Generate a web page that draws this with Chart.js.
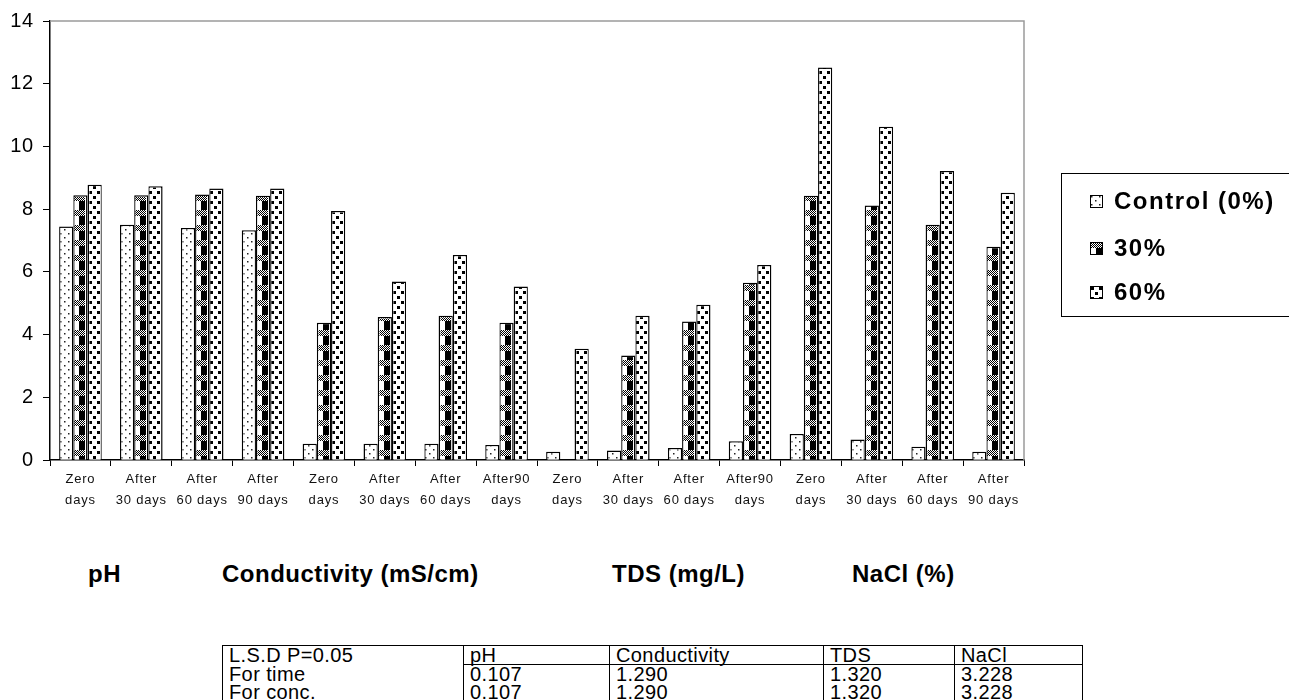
<!DOCTYPE html>
<html>
<head>
<meta charset="utf-8">
<script src="https://cdn.jsdelivr.net/npm/chart.js@4.4.1/dist/chart.umd.min.js"></script>
<style>
  body { margin: 0; background: #fff; font-family: "Liberation Sans", Arial, sans-serif; }
  #wrap { position: relative; width: 1289px; height: 700px; overflow: hidden; }
  #chartBox { position: absolute; left: 0; top: 0; width: 1289px; height: 520px; }
  #legend { position: absolute; left: 1061px; top: 173px; width: 240px; height: 142px; border: 1px solid #000; }
  .item { position: absolute; left: 28px; height: 30px; line-height: 30px; font-weight: bold; font-size: 24px; letter-spacing: 1.5px; color: #000; white-space: nowrap; }
  .item canvas { position: absolute; left: 0; top: 9px; }
  .item span { position: absolute; left: 24px; top: 0; }
  .head { position: absolute; top: 560px; font-weight: bold; font-size: 24px; letter-spacing: 0.5px; line-height: 28px; color: #000; white-space: nowrap; }
  table { position: absolute; left: 222px; top: 645px; border-collapse: collapse; font-size: 20px; letter-spacing: 0.4px; color: #000; }
  td { height: 18px; line-height: 18px; padding: 0 0 0 6px; border-left: 1.5px solid #000; border-right: 1.5px solid #000; white-space: nowrap; vertical-align: middle; }
  tr:first-child td { border-top: 1.5px solid #000; }
  tr:last-child td { border-bottom: 1.5px solid #000; }
  tr:first-child td.v { border-bottom: 1.5px solid #000; }
</style>
</head>
<body>
<div id="wrap">
  <div id="chartBox"><canvas id="salinityChart"></canvas></div>
  <div id="legend"></div>
  <div class="head" style="left:88px">pH</div>
  <div class="head" style="left:222px">Conductivity (mS/cm)</div>
  <div class="head" style="left:612px">TDS (mg/L)</div>
  <div class="head" style="left:852px">NaCl (%)</div>
  <table id="lsdTable"></table>
</div>
<script>
// categories (pH, Conductivity, TDS, NaCl - four time points each)
const categories = [
    ['Zero', 'days'], ['After', '30 days'], ['After', '60 days'], ['After', '90 days'],
    ['Zero', 'days'], ['After', '30 days'], ['After', '60 days'], ['After90', 'days'],
    ['Zero', 'days'], ['After', '30 days'], ['After', '60 days'], ['After90', 'days'],
    ['Zero', 'days'], ['After', '30 days'], ['After', '60 days'], ['After', '90 days'],
];
const seriesNames = ['Control (0%)', '30%', '60%'];
const control = [7.45, 7.5, 7.4, 7.33, 0.52, 0.52, 0.52, 0.48, 0.26, 0.3, 0.38, 0.6, 0.83, 0.65, 0.42, 0.26];
const conc30 = [8.44, 8.44, 8.47, 8.43, 4.38, 4.56, 4.6, 4.38, null, 3.33, 4.42, 5.65, 8.43, 8.12, 7.5, 6.8];
const conc60 = [8.78, 8.73, 8.66, 8.66, 7.94, 5.69, 6.54, 5.53, 3.55, 4.6, 4.95, 6.22, 12.52, 10.63, 9.22, 8.52];
const yTicks = [0, 2, 4, 6, 8, 10, 12, 14];

const tableHead = ['L.S.D P=0.05', 'pH', 'Conductivity', 'TDS', 'NaCl'];
const tableRows = [
    ['For time', '0.107', '1.290', '1.320', '3.228'],
    ['For conc.', '0.107', '1.290', '1.320', '3.228'],
];
const colWidths = [240, 145, 213, 130, 127];

// fill textures, drawn once on small canvases
function makeTile(w, h, draw) {
    const c = document.createElement('canvas');
    c.width = w; c.height = h;
    const g = c.getContext('2d');
    g.fillStyle = '#fff';
    g.fillRect(0, 0, w, h);
    g.fillStyle = '#000';
    draw(g);
    return c;
}
const tiles = [
    makeTile(8, 8, g => {
        g.fillStyle = '#222';
        g.fillRect(1, 1, 1.5, 1.5);
        g.fillRect(5, 5, 1.5, 1.5);
    }),
    makeTile(14, 15, g => {
        g.fillRect(6, 0, 6, 15);
        g.fillStyle = '#fff';
        g.fillRect(1, 0, 11, 6);
        g.fillStyle = '#000';
        for (let y = 0; y < 6; y++) {
            for (let x = 1; x < 12; x++) {
                if ((x + y) % 2 === 0) g.fillRect(x, y, 1, 1);
            }
        }
    }),
    makeTile(8, 10, g => {
        g.fillRect(1, 1, 3, 3);
        g.fillRect(5, 6, 3, 3);
    }),
];

const patternPlugin = {
    id: 'barPatterns',
    afterDatasetsDraw(chart) {
        const ctx = chart.ctx;
        chart.data.datasets.forEach((ds, i) => {
            const meta = chart.getDatasetMeta(i);
            const pat = ctx.createPattern(tiles[i], 'repeat');
            meta.data.forEach((bar, j) => {
                if (ds.data[j] == null) return;
                const p = bar.getProps(['x', 'y', 'base', 'width'], true);
                const left = p.x - p.width / 2;
                const w = p.width - 3, h = p.base - p.y - 1.5;
                if (w <= 0 || h <= 0) return;
                ctx.save();
                ctx.translate(Math.round(left), 0);
                ctx.fillStyle = pat;
                ctx.fillRect(1.5, p.y + 1.5, w, h);
                ctx.restore();
            });
        });
    }
};

const framePlugin = {
    id: 'frame',
    beforeLayout(chart) {
        chart.ctx.letterSpacing = '0.8px';
    },
    afterDraw(chart) {
        const { ctx, chartArea: a } = chart;
        ctx.save();
        ctx.strokeStyle = '#9a9a9a';
        ctx.lineWidth = 1.5;
        ctx.beginPath();
        ctx.moveTo(a.left, a.top);
        ctx.lineTo(a.right, a.top);
        ctx.lineTo(a.right, a.bottom);
        ctx.stroke();
        ctx.restore();
    }
};

const makeSet = (label, data) => ({
    label: label,
    data: data,
    backgroundColor: '#fff',
    borderColor: '#000',
    borderWidth: 1.5,
    borderSkipped: 'bottom',
    categoryPercentage: 0.7,
    barPercentage: 1.0,
});

new Chart(document.getElementById('salinityChart'), {
    type: 'bar',
    data: {
        labels: categories,
        datasets: [
            makeSet(seriesNames[0], control),
            makeSet(seriesNames[1], conc30),
            makeSet(seriesNames[2], conc60),
        ]
    },
    options: {
        responsive: true,
        maintainAspectRatio: false,
        animation: false,
        layout: { padding: { top: 17, right: 265, left: 0, bottom: 0 } },
        plugins: {
            legend: { display: false },
            tooltip: { enabled: false },
        },
        scales: {
            x: {
                afterFit: s => { s.height = 60; },
                grid: { drawOnChartArea: false, color: '#000', tickLength: 6, offset: true },
                border: { color: '#000', width: 1.5 },
                ticks: {
                    color: '#111',
                    font: { family: 'Liberation Sans, Arial, sans-serif', size: 13, lineHeight: 1.6 },
                    padding: 3,
                    maxRotation: 0,
                    autoSkip: false,
                },
            },
            y: {
                min: 0,
                max: 14,
                afterFit: s => { s.width = 50; },
                afterBuildTicks: s => { s.ticks = yTicks.map(v => ({ value: v })); },
                grid: { drawOnChartArea: false, color: '#000', tickLength: 7 },
                border: { color: '#000', width: 1.5 },
                ticks: {
                    color: '#000',
                    font: { family: 'Liberation Sans, Arial, sans-serif', size: 20 },
                    padding: 9,
                },
            },
        },
    },
    plugins: [patternPlugin, framePlugin],
});

// legend
const legend = document.getElementById('legend');
const rowTops = [12, 59, 103];
seriesNames.forEach((name, i) => {
    const item = document.createElement('div');
    item.className = 'item';
    item.style.top = rowTops[i] + 'px';
    const sw = document.createElement('canvas');
    sw.width = 13; sw.height = 13;
    const g = sw.getContext('2d');
    g.fillStyle = g.createPattern(tiles[i], 'repeat');
    g.fillRect(0, 0, 13, 13);
    g.strokeStyle = '#000';
    g.lineWidth = 1;
    g.strokeRect(0.5, 0.5, 12, 12);
    const t = document.createElement('span');
    t.textContent = name;
    item.appendChild(sw);
    item.appendChild(t);
    legend.appendChild(item);
});

// L.S.D table
const table = document.getElementById('lsdTable');
[tableHead, ...tableRows].forEach((row, r) => {
    const tr = document.createElement('tr');
    row.forEach((cell, c) => {
        const td = document.createElement('td');
        td.textContent = cell;
        td.style.width = (colWidths[c] - 6) + 'px';
        if (c > 0) td.className = 'v';
        tr.appendChild(td);
    });
    table.appendChild(tr);
});
</script>
</body>
</html>
